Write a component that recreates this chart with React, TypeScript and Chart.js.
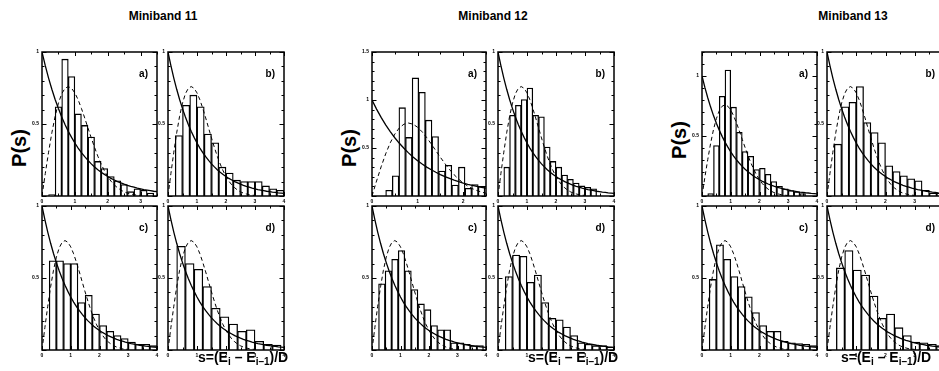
import React, { useEffect, useRef } from "react";
import { Chart, registerables } from "chart.js";

Chart.register(...registerables);

// ---------- theoretical curves (values read at s = 0, 0.1, ...) ----------
const CURVE_S = [0, 0.1, 0.2, 0.3, 0.4, 0.5, 0.6, 0.7, 0.8, 0.9, 1.0, 1.1, 1.2, 1.3, 1.4, 1.5, 1.6, 1.7, 1.8, 1.9, 2.0, 2.1, 2.2, 2.3, 2.4, 2.5, 2.6, 2.7, 2.8, 2.9, 3.0, 3.1, 3.2, 3.3, 3.4, 3.5, 3.6, 3.7, 3.8, 3.9, 4.0];
const POISSON = [1, 0.905, 0.819, 0.741, 0.670, 0.607, 0.549, 0.497, 0.449, 0.407, 0.368, 0.333, 0.301, 0.273, 0.247, 0.223, 0.202, 0.183, 0.165, 0.150, 0.135, 0.122, 0.111, 0.100, 0.091, 0.082, 0.074, 0.067, 0.061, 0.055, 0.050, 0.045, 0.041, 0.037, 0.033, 0.030, 0.027, 0.025, 0.022, 0.020, 0.018];
const WIGNER = [0, 0.156, 0.304, 0.439, 0.554, 0.645, 0.710, 0.748, 0.760, 0.748, 0.716, 0.668, 0.608, 0.542, 0.472, 0.403, 0.337, 0.276, 0.222, 0.175, 0.136, 0.103, 0.077, 0.057, 0.041, 0.029, 0.020, 0.014, 0.009, 0.006, 0.004];

// ---------- histograms: bin centres and P(s) ----------
const M11A_S = [0.3, 0.5, 0.7, 0.9, 1.1, 1.3, 1.5, 1.7, 1.9, 2.1, 2.3, 2.5, 2.7, 2.9, 3.1, 3.3];
const M11A_P = [0.01, 0.62, 0.95, 0.83, 0.57, 0.49, 0.41, 0.24, 0.19, 0.135, 0.105, 0.08, 0.03, 0.05, 0.04, 0.02];
const M11B_S = [0.375, 0.625, 0.875, 1.125, 1.375, 1.625, 1.875, 2.125, 2.375, 2.625, 2.875, 3.125, 3.375, 3.625, 3.875];
const M11B_P = [0.42, 0.63, 0.7, 0.62, 0.43, 0.37, 0.2, 0.16, 0.11, 0.1, 0.1, 0.1, 0.07, 0.05, 0.04];
const M11C_S = [0.375, 0.625, 0.875, 1.125, 1.375, 1.625, 1.875, 2.125, 2.375, 2.625, 2.875, 3.125, 3.375, 3.625, 3.875];
const M11C_P = [0.62, 0.62, 0.6, 0.6, 0.33, 0.38, 0.25, 0.17, 0.13, 0.1, 0.08, 0.055, 0.04, 0.04, 0.03];
const M11D_S = [0.45, 0.75, 1.05, 1.35, 1.65, 1.95, 2.25, 2.55, 2.85, 3.15, 3.45, 3.75];
const M11D_P = [0.72, 0.6, 0.56, 0.44, 0.29, 0.23, 0.18, 0.13, 0.14, 0.06, 0.04, 0.035];

const M12A_S = [0.3725, 0.5175, 0.6625, 0.8075, 0.9525, 1.0975, 1.2425, 1.3875, 1.5325, 1.6775, 1.8225, 1.9675, 2.1125, 2.2575, 2.4025];
const M12A_P = [0.06, 0.21, 0.92, 0.61, 1.23, 1.08, 0.79, 0.62, 0.26, 0.32, 0.115, 0.3, 0.08, 0.12, 0.1];
const M12B_S = [0.3, 0.5, 0.7, 0.9, 1.1, 1.3, 1.5, 1.7, 1.9, 2.1, 2.3, 2.5, 2.7, 2.9, 3.1, 3.3];
const M12B_P = [0.2, 0.56, 0.63, 0.67, 0.75, 0.56, 0.55, 0.34, 0.24, 0.2, 0.145, 0.116, 0.09, 0.07, 0.06, 0.05];
const M12C_S = [0.345, 0.575, 0.805, 1.035, 1.265, 1.495, 1.725, 1.955, 2.185, 2.415, 2.645, 2.875, 3.105, 3.335, 3.565, 3.795];
const M12C_P = [0.46, 0.55, 0.63, 0.69, 0.55, 0.42, 0.32, 0.28, 0.17, 0.14, 0.14, 0.05, 0.05, 0.04, 0.03, 0.03];
const M12D_S = [0.375, 0.625, 0.875, 1.125, 1.375, 1.625, 1.875, 2.125, 2.375, 2.625, 2.875, 3.125, 3.375, 3.625, 3.875];
const M12D_P = [0.51, 0.66, 0.65, 0.47, 0.52, 0.33, 0.22, 0.21, 0.16, 0.1, 0.05, 0.04, 0.03, 0.03, 0.02];

const M13A_S = [0.3, 0.5, 0.7, 0.9, 1.1, 1.3, 1.5, 1.7, 1.9, 2.1, 2.3, 2.5, 2.7, 2.9, 3.1, 3.3, 3.5];
const M13A_P = [0.02, 0.42, 0.83, 1.05, 0.74, 0.53, 0.37, 0.33, 0.22, 0.23, 0.18, 0.12, 0.08, 0.06, 0.045, 0.035, 0.02];
const M13B_S = [0.375, 0.625, 0.875, 1.125, 1.375, 1.625, 1.875, 2.125, 2.375, 2.625, 2.875, 3.125, 3.375, 3.625, 3.875];
const M13B_P = [0.36, 0.62, 0.65, 0.76, 0.51, 0.44, 0.37, 0.21, 0.17, 0.14, 0.12, 0.105, 0.04, 0.02, 0.02];
const M13C_S = [0.375, 0.625, 0.875, 1.125, 1.375, 1.625, 1.875, 2.125, 2.375, 2.625, 2.875, 3.125, 3.375, 3.625, 3.875];
const M13C_P = [0.49, 0.73, 0.63, 0.51, 0.44, 0.37, 0.26, 0.17, 0.13, 0.13, 0.06, 0.05, 0.045, 0.04, 0.03];
const M13D_S = [0.4625, 0.7475, 1.0325, 1.3175, 1.6025, 1.8875, 2.1725, 2.4575, 2.7425, 3.0275, 3.3125, 3.5975, 3.8825];
const M13D_P = [0.57, 0.69, 0.555, 0.52, 0.375, 0.22, 0.25, 0.155, 0.1, 0.055, 0.05, 0.04, 0.03];

// ---------- axis tick labels ----------
const X_TICKS_4 = ["0", "1", "2", "3", "4"];
const X_TICKS_35 = ["0", "1", "2", "3"];
const X_TICKS_25 = ["0", "1", "2"];
const Y_TICKS_1 = ["0.5", "1"];
const Y_TICKS_15 = ["0.5", "1", "1.5"];

const TITLES = ["Miniband 11", "Miniband 12", "Miniband 13"];
const PANEL_TAGS = ["a)", "b)", "c)", "d)"];

const FONT = '"Liberation Sans", Arial, Helvetica, sans-serif';

type PanelDef = {
  left: number; top: number; width: number; height: number;
  xMax: number; yMax: number;
  s: number[]; p: number[];
  xTicks: string[]; yTicks: string[];
  tag: string;
};

const PAD = { l: 16, r: 4, t: 4, b: 12 };

const framePlugin = {
  id: "frame",
  afterDraw(chart: any, _args: any, opts: any) {
    const { ctx, chartArea, scales } = chart;
    const { left, right, top, bottom } = chartArea;
    const xs = scales.x, ys = scales.y;
    ctx.save();
    ctx.strokeStyle = "#000";
    ctx.lineWidth = 1.5;
    ctx.strokeRect(left, top, right - left, bottom - top);
    ctx.lineWidth = 1;
    ctx.beginPath();
    for (let k = 0; k * 0.5 <= opts.xMax + 1e-9; k++) {
      const px = Math.round(xs.getPixelForValue(k * 0.5)) + 0.5;
      const len = k % 2 === 0 ? 4 : 2.5;
      ctx.moveTo(px, bottom); ctx.lineTo(px, bottom - len);
      ctx.moveTo(px, top); ctx.lineTo(px, top + len);
    }
    for (let k = 0; k * 0.1 <= opts.yMax + 1e-9; k++) {
      const py = Math.round(ys.getPixelForValue(k * 0.1)) + 0.5;
      const len = k % 5 === 0 ? 4.5 : 2.5;
      ctx.moveTo(left, py); ctx.lineTo(left + len, py);
      ctx.moveTo(right, py); ctx.lineTo(right - len, py);
    }
    ctx.stroke();
    ctx.fillStyle = "#000";
    ctx.font = `bold 5px ${FONT}`;
    ctx.textAlign = "center";
    ctx.textBaseline = "top";
    for (const t of opts.xTicks) {
      ctx.fillText(t, xs.getPixelForValue(parseFloat(t)), bottom + 3);
    }
    ctx.textAlign = "right";
    ctx.textBaseline = "middle";
    for (const t of opts.yTicks) {
      ctx.fillText(t, left - 3, ys.getPixelForValue(parseFloat(t)));
    }
    ctx.font = `bold 10px ${FONT}`;
    ctx.textAlign = "right";
    ctx.textBaseline = "middle";
    ctx.fillText(opts.tag, right - 9, top + 22);
    ctx.restore();
  },
};

function Panel({ d }: { d: PanelDef }) {
  const ref = useRef<HTMLCanvasElement>(null);
  const cw = d.width + PAD.l + PAD.r;
  const ch = d.height + PAD.t + PAD.b;
  useEffect(() => {
    const chart = new Chart(ref.current as HTMLCanvasElement, {
      type: "bar",
      data: {
        datasets: [
          {
            type: "line",
            data: CURVE_S.map((s, i) => ({ x: s, y: POISSON[i] })),
            borderColor: "#000",
            borderWidth: 1.3,
            pointRadius: 0,
            fill: false,
            order: 0,
          },
          {
            type: "line",
            data: WIGNER.map((w, i) => ({ x: CURVE_S[i], y: w })),
            borderColor: "#000",
            borderWidth: 1,
            borderDash: [4, 3],
            pointRadius: 0,
            fill: false,
            order: 1,
          },
          {
            type: "bar",
            data: d.s.map((s, i) => ({ x: s, y: d.p[i] })),
            backgroundColor: "#fff",
            borderColor: "#000",
            borderWidth: 1.3,
            barPercentage: 1,
            categoryPercentage: 1,
            order: 2,
          },
        ] as any,
      },
      options: {
        animation: false,
        responsive: false,
        maintainAspectRatio: false,
        devicePixelRatio: 1,
        events: [],
        layout: { padding: { left: PAD.l, right: PAD.r, top: PAD.t, bottom: PAD.b } },
        plugins: {
          legend: { display: false },
          tooltip: { enabled: false },
          frame: { xMax: d.xMax, yMax: d.yMax, xTicks: d.xTicks, yTicks: d.yTicks, tag: d.tag },
        } as any,
        scales: {
          x: { type: "linear", min: 0, max: d.xMax, display: false, offset: false },
          y: { type: "linear", min: 0, max: d.yMax, display: false },
        },
      },
      plugins: [framePlugin],
    });
    return () => chart.destroy();
  }, []);
  return (
    <canvas
      ref={ref}
      width={cw}
      height={ch}
      style={{ position: "absolute", left: d.left - PAD.l, top: d.top - PAD.t, width: cw, height: ch }}
    />
  );
}

const GROUP_LEFT = [42, 372, 702];
const RIGHT_OFFSET = [126, 126, 125];
const LEFT_W = [115, 114, 115];
const RIGHT_W = [116, 116, 117];
const TITLE_X = [163, 493, 853];
const PS_Y = [148, 148, 140];
const XLAB_X = [198, 528, 841];

const GROUP_DATA = [
  {
    a: { s: M11A_S, p: M11A_P, xMax: 3.5, yMax: 1, xTicks: X_TICKS_35, yTicks: Y_TICKS_1 },
    b: { s: M11B_S, p: M11B_P, xMax: 4, yMax: 1, xTicks: X_TICKS_4, yTicks: Y_TICKS_1 },
    c: { s: M11C_S, p: M11C_P, xMax: 4, yMax: 1, xTicks: X_TICKS_4, yTicks: Y_TICKS_1 },
    d: { s: M11D_S, p: M11D_P, xMax: 4, yMax: 1, xTicks: X_TICKS_4, yTicks: Y_TICKS_1 },
  },
  {
    a: { s: M12A_S, p: M12A_P, xMax: 2.5, yMax: 1.5, xTicks: X_TICKS_25, yTicks: Y_TICKS_15 },
    b: { s: M12B_S, p: M12B_P, xMax: 4, yMax: 1, xTicks: X_TICKS_4, yTicks: Y_TICKS_1 },
    c: { s: M12C_S, p: M12C_P, xMax: 4, yMax: 1, xTicks: X_TICKS_4, yTicks: Y_TICKS_1 },
    d: { s: M12D_S, p: M12D_P, xMax: 4, yMax: 1, xTicks: X_TICKS_4, yTicks: Y_TICKS_1 },
  },
  {
    a: { s: M13A_S, p: M13A_P, xMax: 4, yMax: 1.2, xTicks: X_TICKS_4, yTicks: Y_TICKS_1 },
    b: { s: M13B_S, p: M13B_P, xMax: 4, yMax: 1, xTicks: X_TICKS_4, yTicks: Y_TICKS_1 },
    c: { s: M13C_S, p: M13C_P, xMax: 4, yMax: 1, xTicks: X_TICKS_4, yTicks: Y_TICKS_1 },
    d: { s: M13D_S, p: M13D_P, xMax: 4, yMax: 1, xTicks: X_TICKS_4, yTicks: Y_TICKS_1 },
  },
];

export default function App() {
  const panels: PanelDef[] = [];
  GROUP_DATA.forEach((g, gi) => {
    const L = GROUP_LEFT[gi];
    const R = L + RIGHT_OFFSET[gi];
    const tops = [52, 52, 206, 206];
    const lefts = [L, R, L, R];
    const widths = [LEFT_W[gi], RIGHT_W[gi], LEFT_W[gi], RIGHT_W[gi]];
    [g.a, g.b, g.c, g.d].forEach((q, qi) => {
      panels.push({
        left: lefts[qi], top: tops[qi], width: widths[qi], height: 144,
        xMax: q.xMax, yMax: q.yMax, s: q.s, p: q.p,
        xTicks: q.xTicks, yTicks: q.yTicks, tag: PANEL_TAGS[qi],
      });
    });
  });
  const sub: React.CSSProperties = { fontSize: "10px", verticalAlign: "-3px", lineHeight: 0 };
  return (
    <div style={{ position: "fixed", left: 0, top: 0, width: 939, height: 371, overflow: "hidden", background: "#fff", fontFamily: FONT }}>
      {TITLES.map((t, i) => (
        <div key={t} style={{ position: "absolute", left: TITLE_X[i] - 60, width: 120, top: 9, textAlign: "center", font: `bold 12px ${FONT}`, color: "#000" }}>{t}</div>
      ))}
      {PS_Y.map((y, i) => (
        <div key={"ps" + i} style={{ position: "absolute", left: GROUP_LEFT[i] - 47, top: y - 12, width: 50, height: 24, lineHeight: "24px", textAlign: "center", transform: "rotate(-90deg)", font: `bold 20px ${FONT}`, color: "#000" }}>P(s)</div>
      ))}
      {panels.map((d, i) => <Panel key={i} d={d} />)}
      {XLAB_X.map((x, i) => (
        <div key={"xl" + i} style={{ position: "absolute", left: x, top: 349, whiteSpace: "nowrap", font: `bold 14px ${FONT}`, lineHeight: "16px", color: "#000" }}>
          s=(E<sub style={sub}>i</sub> – E<sub style={sub}>i–1</sub>)/D
        </div>
      ))}
    </div>
  );
}
